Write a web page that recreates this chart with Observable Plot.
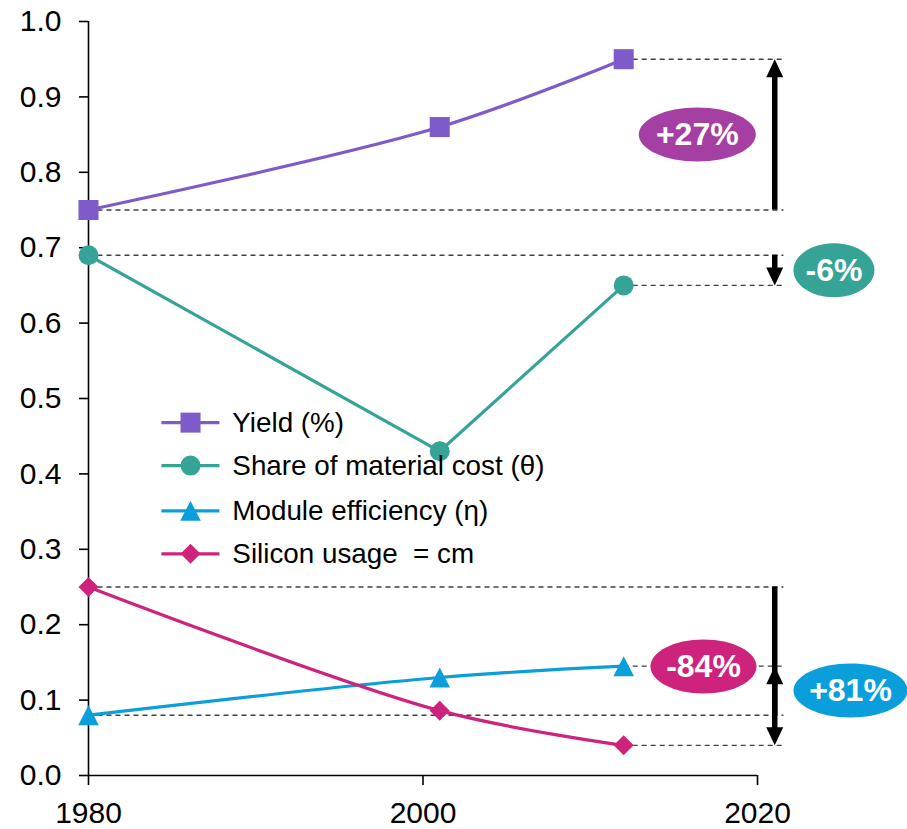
<!DOCTYPE html>
<html><head><meta charset="utf-8">
<script src="https://cdn.jsdelivr.net/npm/d3@7"></script>
<script src="https://cdn.jsdelivr.net/npm/@observablehq/plot@0.6"></script>
<style>
body{margin:0;background:#fff}
svg text{white-space:pre}
</style>
</head><body><div id="chart"></div>
<script>
// ---- data ----
const years = [1980, 2001, 2012];
const seriesNames = ["Yield (%)", "Share of material cost (θ)", "Module efficiency (η)", "Silicon usage  = cm"];
const yieldValues = [0.75, 0.86, 0.95];
const shareValues = [0.69, 0.43, 0.65];
const efficiencyValues = [0.08, 0.13, 0.145];
const siliconValues = [0.25, 0.086, 0.04];
const changeLabels = ["+27%", "-6%", "+81%", "-84%"];
const xTicks = [1980, 2000, 2020];
const yTicks = [0.0, 0.1, 0.2, 0.3, 0.4, 0.5, 0.6, 0.7, 0.8, 0.9, 1.0];

// ---- styling / annotation layout ----
function ellipseSymbol(rx, ry) {
  const k = 0.5523;
  return {draw(c) {
    c.moveTo(rx, 0);
    c.bezierCurveTo(rx, ry * k, rx * k, ry, 0, ry);
    c.bezierCurveTo(-rx * k, ry, -rx, ry * k, -rx, 0);
    c.bezierCurveTo(-rx, -ry * k, -rx * k, -ry, 0, -ry);
    c.bezierCurveTo(rx * k, -ry, rx, -ry * k, rx, 0);
    c.closePath();
  }};
}
const triMarker = {draw(c) { c.moveTo(0, -10); c.lineTo(10.3, 10); c.lineTo(-10.3, 10); c.closePath(); }};
const headUp = {draw(c) { c.moveTo(0, 0); c.lineTo(8.5, 18); c.lineTo(-8.5, 18); c.closePath(); }};
const headDown = {draw(c) { c.moveTo(0, 0); c.lineTo(8.5, -18); c.lineTo(-8.5, -18); c.closePath(); }};

const styles = [
  {color: "#7F5BC9", symbol: "square", r: 11.3, curve: "catmull-rom", badge: "#A53FA3",
   lx: 2016.4, ly: 0.850, rx: 58.5},
  {color: "#36A397", symbol: "circle", r: 10, curve: "linear", badge: "#36A397",
   lx: 2024.57, ly: 0.670, rx: 40.5},
  {color: "#0A9FDA", symbol: triMarker, r: 10, curve: "catmull-rom", badge: "#0A9FDA",
   lx: 2025.56, ly: 0.1127, rx: 57},
  {color: "#CE237C", symbol: "diamond2", r: 9, curve: "catmull-rom", badge: "#CE237C",
   lx: 2016.77, ly: 0.1446, rx: 53}
];
const valuesList = [yieldValues, shareValues, efficiencyValues, siliconValues];
const legendY = [0.468, 0.411, 0.351, 0.294];
const arrowX = 2021.03, dashEnd = 2021.55;

const marks = [];
// dashed reference lines
valuesList.forEach((vals) => {
  const first = vals[0], last = vals[vals.length - 1];
  marks.push(Plot.link([0], {x1: years[0], x2: dashEnd, y1: first, y2: first,
    stroke: "#404040", strokeWidth: 1.4, strokeDasharray: "5,4"}));
  marks.push(Plot.link([0], {x1: years[years.length - 1], x2: dashEnd, y1: last, y2: last,
    stroke: "#404040", strokeWidth: 1.4, strokeDasharray: "5,4"}));
});
// axes
marks.push(Plot.axisY({ticks: yTicks, tickFormat: ".1f", tickSize: 9, tickPadding: 18, fontSize: 30, strokeWidth: 1.6, label: null}));
marks.push(Plot.axisX({ticks: xTicks, tickFormat: "d", tickSize: 10, tickPadding: 16, fontSize: 30, strokeWidth: 1.6, label: null}));
marks.push(Plot.ruleX([xTicks[0]], {y1: 0, y2: 1, stroke: "black", strokeWidth: 1.6}));
marks.push(Plot.ruleY([0], {x1: xTicks[0], x2: xTicks[2], stroke: "black", strokeWidth: 1.6}));

// series lines and markers
valuesList.forEach((vals, i) => {
  const s = styles[i];
  const rows = vals.map((v, j) => ({year: years[j], value: v}));
  marks.push(Plot.line(rows, {x: "year", y: "value", stroke: s.color, strokeWidth: 3.2, curve: s.curve}));
  marks.push(Plot.dot(rows, {x: "year", y: "value", fill: s.color, symbol: s.symbol, r: s.r, stroke: "none"}));
});

// arrows
valuesList.forEach((vals) => {
  const first = vals[0], last = vals[vals.length - 1];
  const up = last > first;
  const shaftEnd = up ? last - 0.015 : last + 0.015;
  marks.push(Plot.ruleX([arrowX], {y1: first, y2: shaftEnd, stroke: "black", strokeWidth: 5.5}));
  marks.push(Plot.dot([0], {x: arrowX, y: last, symbol: up ? headUp : headDown, r: 5, fill: "black", stroke: "none"}));
});

// badges
valuesList.forEach((vals, i) => {
  const s = styles[i];
  marks.push(Plot.dot([0], {x: s.lx, y: s.ly, symbol: ellipseSymbol(s.rx, 27), r: 5, fill: s.badge, stroke: "none"}));
  marks.push(Plot.text([changeLabels[i]], {x: s.lx, y: s.ly, text: d => d, fill: "white",
    fontWeight: "bold", fontSize: 32, textAnchor: "middle"}));
});

// legend
seriesNames.forEach((name, i) => {
  const s = styles[i];
  marks.push(Plot.link([0], {x1: 1984.36, x2: 1987.83, y1: legendY[i], y2: legendY[i], stroke: s.color, strokeWidth: 3.2}));
  marks.push(Plot.dot([0], {x: 1986.1, y: legendY[i], fill: s.color, symbol: s.symbol, r: s.r, stroke: "none"}));
  marks.push(Plot.text([name], {x: 1988.6, y: legendY[i], text: d => d, textAnchor: "start", fontSize: 27.8, fill: "black"}));
});

const chart = Plot.plot({
  width: 907, height: 829,
  marginLeft: 88, marginRight: 150, marginTop: 21, marginBottom: 54,
  x: {domain: [1980, 2020], axis: null},
  y: {domain: [0, 1], axis: null},
  style: {fontFamily: "'Liberation Sans', Arial, sans-serif", color: "black", background: "white", overflow: "visible"},
  marks
});
document.getElementById("chart").append(chart);
</script>
</body></html>
